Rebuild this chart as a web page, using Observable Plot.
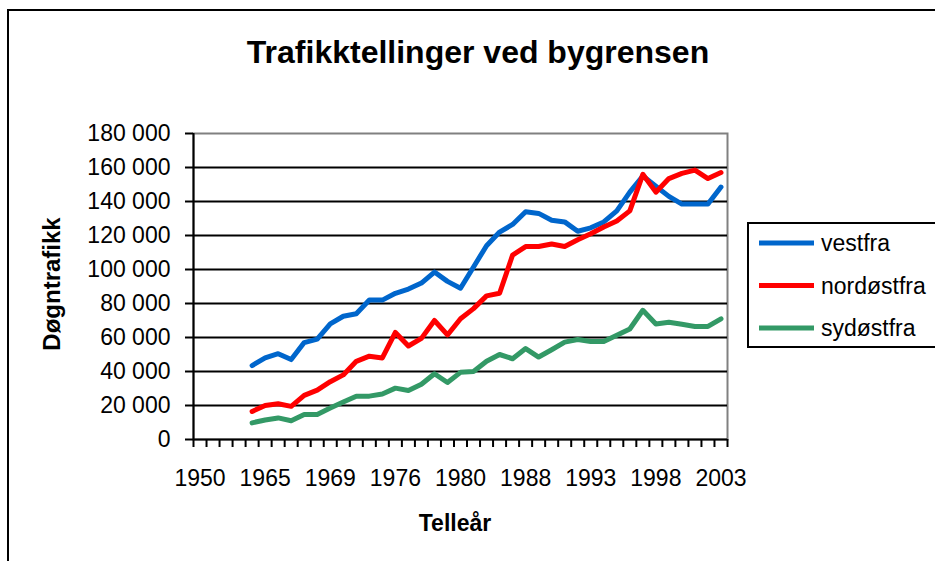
<!DOCTYPE html>
<html><head><meta charset="utf-8">
<script src="https://cdn.jsdelivr.net/npm/d3@7"></script>
<script src="https://cdn.jsdelivr.net/npm/@observablehq/plot@0.6"></script>
<style>
body{margin:0;background:#fff;overflow:hidden;}
#wrap{position:relative;width:935px;height:561px;overflow:hidden;font-family:"Liberation Sans",Arial,sans-serif;background:#fff;}
#border{position:absolute;left:7px;top:9px;width:1000px;height:1000px;border:2px solid #000;}
#chart{position:absolute;left:0;top:0;}
#overlay{position:absolute;left:0;top:0;}
</style></head><body>
<div id="wrap"><div id="border"></div><div id="chart"></div><svg id="overlay" width="935" height="561"></svg></div>
<script>
// Category tick labels (one label every 5 categories on the category axis)
const categoryLabels = ["1950","1965","1969","1976","1980","1988","1993","1998","2003"];
const labelEvery = 5;
const firstIndex = 4; // first category with data
const title = "Trafikktellinger ved bygrensen";
const yTitle = "Døgntrafikk";
const xTitle = "Telleår";
const seriesNames = ["vestfra","nordøstfra","sydøstfra"];
const seriesColors = ["#0066CC","#FF0000","#339966"];

const vestfra = [43500,48000,50500,47000,57000,59000,68000,72500,74000,82000,82000,86000,88500,92000,98500,93000,89000,101500,114000,122000,126500,134000,133000,129000,128000,122500,124500,128000,134500,145500,155000,149000,143000,138500,138500,138500,148500];
const nordostfra = [16500,20000,21000,19500,26000,29000,34000,38000,46000,49000,48000,63000,55000,59500,70000,61500,71000,77000,84500,86000,108500,113500,113500,115000,113500,117500,121000,125000,128500,134500,156000,145500,153500,156500,158500,153500,157000];
const sydostfra = [9800,11500,12700,11000,14700,14700,18500,22000,25500,25500,26800,30200,28800,32500,38700,33500,39500,40000,46000,50000,47500,53500,48500,52800,57300,58800,57700,57700,61300,65000,76000,68000,69000,67800,66500,66500,71000];

const seriesValues = [vestfra, nordostfra, sydostfra];
const rows = seriesNames.flatMap((name, s) =>
  seriesValues[s].map((v, i) => ({series: name, index: firstIndex + i, value: v})));

const nCat = (categoryLabels.length - 1) * labelEvery + 1;
const fmt = d3.formatLocale({decimal: ",", thousands: " ", grouping: [3], currency: ["", ""]}).format(",d");
const font = '"Liberation Sans", Arial, sans-serif';

const chart = Plot.plot({
  width: 935, height: 561,
  marginLeft: 193, marginRight: 208, marginTop: 133, marginBottom: 122,
  style: {fontFamily: font, fontSize: "23px", color: "#000", background: "transparent", overflow: "visible"},
  x: {domain: [-0.5, nCat - 0.5], axis: null, label: null},
  y: {domain: [0, 180000], axis: null, label: null},
  color: {domain: seriesNames, range: seriesColors},
  marks: [
    Plot.frame({stroke: "#808080", strokeWidth: 2}),
    Plot.gridY(d3.range(20000, 180000, 20000), {stroke: "#000", strokeOpacity: 1, strokeWidth: 2}),
    Plot.lineY(rows, {x: "index", y: "value", z: "series", stroke: "series", strokeWidth: 5, strokeLinejoin: "round"}),
    Plot.ruleY([0], {stroke: "#000", strokeWidth: 2}),
    Plot.ruleX([-0.5], {stroke: "#000", strokeWidth: 2}),
    Plot.axisY({ticks: d3.range(0, 180001, 20000), tickSize: 8, tickPadding: 15, tickFormat: fmt, fontSize: 23, strokeWidth: 2, label: null}),
    Plot.axisX({ticks: d3.range(-0.5, nCat, 1), tickSize: 8, tickFormat: () => "", strokeWidth: 2, label: null}),
    Plot.axisX({ticks: categoryLabels.map((d, i) => i * labelEvery), tickSize: 0, tickPadding: 30,
      tickFormat: i => categoryLabels[Math.round(i / labelEvery)], fontSize: 23, label: null})
  ]
});
document.getElementById("chart").appendChild(chart);

// Title, axis titles and legend
const ov = d3.select("#overlay").style("font-family", font);
ov.append("text").attr("x", 478).attr("y", 63).attr("text-anchor", "middle")
  .attr("font-size", 32).attr("font-weight", "bold").text(title);
ov.append("text").attr("transform", "translate(60,284) rotate(-90)").attr("text-anchor", "middle")
  .attr("font-size", 24).attr("font-weight", "bold").text(yTitle);
ov.append("text").attr("x", 455).attr("y", 531).attr("text-anchor", "middle")
  .attr("font-size", 23).attr("font-weight", "bold").text(xTitle);
const lg = ov.append("g");
lg.append("rect").attr("x", 748).attr("y", 223).attr("width", 300).attr("height", 124)
  .attr("fill", "#fff").attr("stroke", "#000").attr("stroke-width", 2);
seriesNames.forEach((name, i) => {
  const y = 243 + i * 42.5;
  lg.append("line").attr("x1", 759).attr("x2", 814).attr("y1", y).attr("y2", y)
    .attr("stroke", seriesColors[i]).attr("stroke-width", 5);
  lg.append("text").attr("x", 821).attr("y", y + 8).attr("font-size", 23).text(name);
});
</script>
</body></html>
